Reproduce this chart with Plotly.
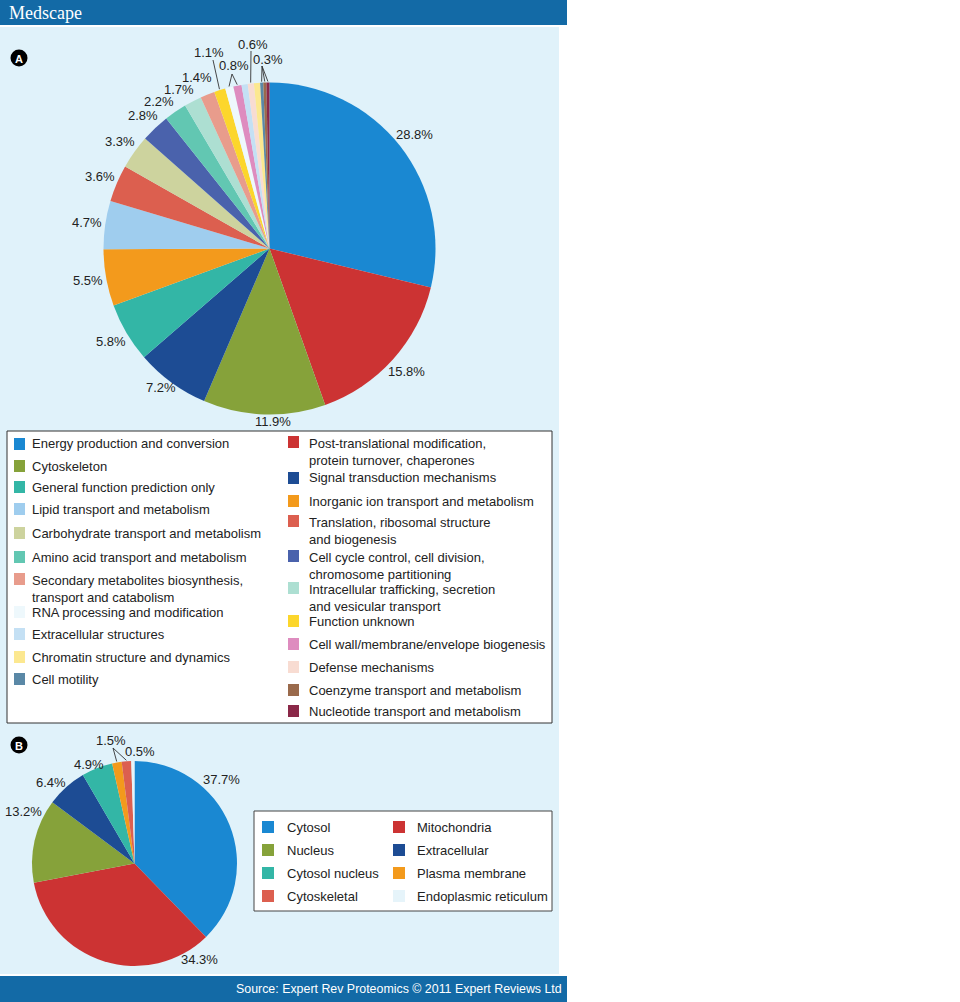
import math
import plotly.graph_objects as go

W, H = 960, 1002

# ---------------- data ----------------
a_labels = [
    "Energy production and conversion",
    "Post-translational modification,<br>protein turnover, chaperones",
    "Cytoskeleton",
    "Signal transduction mechanisms",
    "General function prediction only",
    "Inorganic ion transport and metabolism",
    "Lipid transport and metabolism",
    "Translation, ribosomal structure<br>and biogenesis",
    "Carbohydrate transport and metabolism",
    "Cell cycle control, cell division,<br>chromosome partitioning",
    "Amino acid transport and metabolism",
    "Intracellular trafficking, secretion<br>and vesicular transport",
    "Secondary metabolites biosynthesis,<br>transport and catabolism",
    "Function unknown",
    "RNA processing and modification",
    "Cell wall/membrane/envelope biogenesis",
    "Extracellular structures",
    "Defense mechanisms",
    "Chromatin structure and dynamics",
    "Cell motility",
    "Coenzyme transport and metabolism",
    "Nucleotide transport and metabolism",
]
a_values = [28.8, 15.8, 11.9, 7.2, 5.8, 5.5, 4.7, 3.6, 3.3, 2.8, 2.2,
            1.7, 1.4, 1.1, 0.8, 0.8, 0.6, 0.6, 0.6, 0.3, 0.3, 0.3]
a_colors = ["#1a88d2", "#cc3333", "#86a23a", "#1d4c94", "#33b6a6", "#f39a1c",
            "#9fcdee", "#dc5f4f", "#cdd39e", "#4a62ac", "#62c7b2", "#addfd2",
            "#e89c8c", "#fcd62c", "#eef8fc", "#de8cbf", "#c4e0f4", "#f8dcd2",
            "#fce890", "#5a88a6", "#9a6a4c", "#8a2848"]

b_labels = ["Cytosol", "Mitochondria", "Nucleus", "Extracellular",
            "Cytosol nucleus", "Plasma membrane", "Cytoskeletal",
            "Endoplasmic reticulum"]
b_values = [37.7, 34.3, 13.2, 6.4, 4.9, 1.5, 1.5, 0.5]
b_colors = ["#1a88d2", "#cc3333", "#86a23a", "#1d4c94", "#33b6a6", "#f39a1c",
            "#dc5f4f", "#e6f4fa"]

# ---------------- layout helpers (pixel geometry) ----------------
def px(x):
    return x / W

def py(y):
    return 1 - y / H

A_CX, A_CY, A_R = 269.5, 248.5, 166
B_CX, B_CY, B_R = 134.5, 863.5, 102.5

def pt(cx, cy, r, ang):
    a = math.radians(ang)
    return cx + r * math.sin(a), cy - r * math.cos(a)

def mid_angles(values):
    tot = sum(values)
    out, c = [], 0
    for v in values:
        out.append((c + v / 2) / tot * 360)
        c += v
    return out

FONT = "Liberation Sans, Arial, sans-serif"
TXT = "#222222"
BAR = "#136aa6"
PANEL = "#e0f2fa"

fig = go.Figure()
fig.add_trace(go.Pie(
    labels=a_labels, values=a_values, sort=False, direction="clockwise",
    marker=dict(colors=a_colors, line=dict(width=0)), textinfo="none",
    hoverinfo="skip", showlegend=False,
    domain=dict(x=[px(A_CX - A_R), px(A_CX + A_R)],
                y=[py(A_CY + A_R), py(A_CY - A_R)])))
fig.add_trace(go.Pie(
    labels=b_labels, values=b_values, sort=False, direction="clockwise",
    marker=dict(colors=b_colors, line=dict(width=0)), textinfo="none",
    hoverinfo="skip", showlegend=False,
    domain=dict(x=[px(B_CX - B_R), px(B_CX + B_R)],
                y=[py(B_CY + B_R), py(B_CY - B_R)])))

shapes, annots = [], []

def rect(x0, y0, x1, y1, fill, line=None, lw=0, layer="below"):
    shapes.append(dict(type="rect", xref="paper", yref="paper",
                       x0=px(x0), x1=px(x1), y0=py(y1), y1=py(y0),
                       fillcolor=fill, layer=layer,
                       line=dict(color=line or fill, width=lw)))

def text(x, y, s, size=13, color=TXT, xa="center", ya="middle", family=FONT):
    annots.append(dict(x=px(x), y=py(y), xref="paper", yref="paper",
                       text=s, showarrow=False, xanchor=xa, yanchor=ya,
                       align="left", font=dict(size=size, color=color, family=family)))

def seg(x0, y0, x1, y1, color="#333333", w=0.9):
    shapes.append(dict(type="line", xref="paper", yref="paper",
                       x0=px(x0), y0=py(y0), x1=px(x1), y1=py(y1),
                       line=dict(color=color, width=w), layer="above"))

# background bars and panel
rect(0, 0, 567, 25, BAR)
rect(0, 27, 559, 974, PANEL)
rect(0, 976, 567, 1002, BAR)
text(7, 13, "Medscape", size=18, color="white", xa="left",
     family="Liberation Serif, DejaVu Serif, serif")
text(564, 989, "Source: Expert Rev Proteomics © 2011 Expert Reviews Ltd",
     size=12.4, color="white", xa="right")

# badges
for (bx, by, letter) in [(19, 58, "A"), (19, 745, "B")]:
    shapes.append(dict(type="circle", xref="paper", yref="paper",
                       x0=px(bx - 8.5), x1=px(bx + 8.5), y0=py(by + 8.5), y1=py(by - 8.5),
                       fillcolor="black", line=dict(color="black", width=0), layer="above"))
    text(bx, by + 0.5, "<b>%s</b>" % letter, size=11, color="white")

# ---------------- pie A labels ----------------
a_mid = mid_angles(a_values)
LAB_R = A_R + 18
# (angle, distance) overrides for a few labels placed off their slice middle
place_override = {2: (179, 173), 3: (218, 177), 10: (323, 184),
                  11: (330.5, 183), 12: (337, 186)}
for i in range(13):
    s = "%.1f%%" % a_values[i]
    ang, dist = place_override.get(i, (a_mid[i], LAB_R))
    x, y = pt(A_CX, A_CY, dist, ang)
    text(x, y, s)

# callouts for tiny slices: (label position, apex, slice indices)
callouts_a = [
    ((209, 53), (213, 60), [13]),
    ((234, 66), (232, 74), [14, 15]),
    ((253, 44), (251, 51), [17]),
    ((268, 59), (262, 66), [19, 20, 21]),
]
for (lx, ly), (ax, ay), idxs in callouts_a:
    text(lx, ly, "%.1f%%" % a_values[idxs[0]])
    for i in idxs:
        ex, ey = pt(A_CX, A_CY, A_R + 1, a_mid[i])
        seg(ax, ay, ex, ey)

# ---------------- pie B labels ----------------
b_mid = mid_angles(b_values)
b_label_pos = [(221, 779), (199, 959), (23, 811), (51, 782), (89, 764), None, None, (140, 751)]
for i, p in enumerate(b_label_pos):
    if p:
        text(p[0], p[1], "%.1f%%" % b_values[i])
text(111, 740, "%.1f%%" % b_values[5])
for i in (5, 6):
    ex, ey = pt(B_CX, B_CY, B_R + 1, b_mid[i])
    seg(113, 748, ex, ey)

# ---------------- legend A ----------------
rect(7, 431, 552, 723, "white", line="#333333", lw=1)
left_idx = [0, 2, 4, 6, 8, 10, 12, 14, 16, 18, 19]
left_y = [444, 466, 487, 509, 533, 557, 579, 612, 634, 657, 679]
right_idx = [1, 3, 5, 7, 9, 11, 13, 15, 17, 20, 21]
right_y = [442, 478, 501, 521, 556, 588, 621, 644, 667, 690, 711]
for idxs, ys, sx, tx in [(left_idx, left_y, 14, 30), (right_idx, right_y, 288, 307)]:
    for i, y in zip(idxs, ys):
        rect(sx, y - 6, sx + 11, y + 6, a_colors[i], layer="above")
        lab = a_labels[i]
        if "<br>" in lab:
            text(tx, y - 8, lab, xa="left", ya="top")
        else:
            text(tx, y, lab, xa="left")

# ---------------- legend B ----------------
rect(254, 811, 552, 911, "white", line="#444444", lw=1)
b_rows = [827, 850, 873, 896]
for i, lab in enumerate(b_labels):
    row, col = divmod(i, 2)
    sx = 262 if col == 0 else 393
    tx = 285 if col == 0 else 415
    y = b_rows[row]
    rect(sx, y - 6, sx + 12, y + 6, b_colors[i], layer="above")
    text(tx, y, lab, xa="left")

fig.update_layout(
    width=W, height=H, margin=dict(l=0, r=0, t=0, b=0),
    paper_bgcolor="white", plot_bgcolor="white",
    shapes=shapes, annotations=annots, showlegend=False,
)
fig.write_html("out.html", config={"displayModeBar": False},
               post_script="document.body.style.margin='0';document.body.style.overflow='hidden';")
